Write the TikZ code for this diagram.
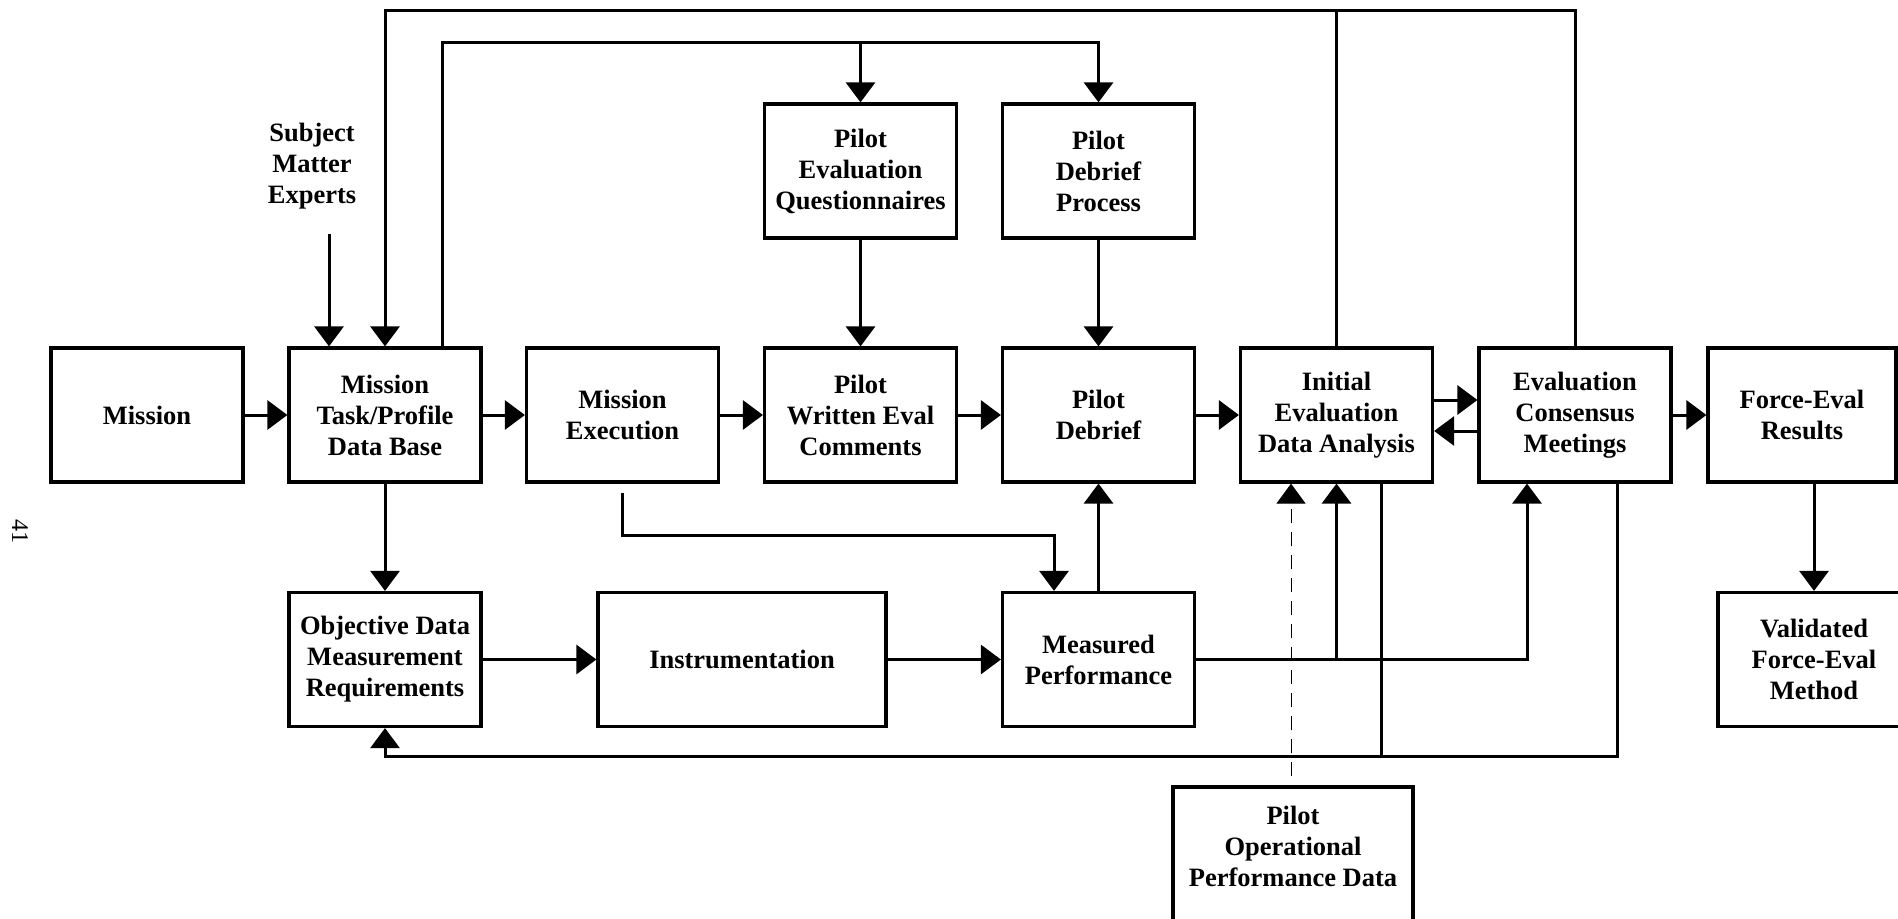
\documentclass[tikz,border=0pt]{standalone}
\usepackage{fontspec}
\setmainfont{Liberation Serif}
\usetikzlibrary{arrows.meta,calc}
\tikzset{
  box/.style={draw, line width=1.6pt, minimum width=96pt, minimum height=67pt, inner sep=0pt, align=center,
    font=\fontsize{13.25}{15.5}\selectfont\bfseries},
  txt/.style={inner sep=0pt, align=center, font=\fontsize{13.25}{15.5}\selectfont\bfseries},
  con/.style={line width=1.5pt},
  arr/.style={line width=1.5pt, -{Triangle[width=14.5pt,length=10pt]}},
  dasharr/.style={line width=0.5pt, dash pattern=on 7pt off 4.5pt, -{Triangle[width=14.5pt,length=10pt]}}
}
\begin{document}
\begin{tikzpicture}[x=0.5pt,y=-0.5pt]
\useasboundingbox (0,0) rectangle (1898,919);
\clip (0,0) rectangle (1898,919);
% main row
\node[box] (mission) at (147,415) {Mission};
\node[box] (task) at (385,415) {Mission\\Task/Profile\\Data Base};
\node[box] (exec) at (622.5,415) {Mission\\Execution};
\node[box] (pwec) at (860.5,415) {Pilot\\Written Eval\\Comments};
\node[box] (pd) at (1098.5,415) {Pilot\\Debrief};
\node[box] (ieda) at (1336.5,415) {Initial\\Evaluation\\Data Analysis};
\node[box] (ecm) at (1575,415) {Evaluation\\Consensus\\Meetings};
\node[box, minimum width=94pt] (fer) at (1802,415) {Force-Eval\\Results};
% top row
\node[box] (peq) at (860.5,171) {Pilot\\Evaluation\\Questionnaires};
\node[box] (pdp) at (1098.5,171) {Pilot\\Debrief\\Process};
% bottom row
\node[box] (odmr) at (385,659.5) {Objective Data\\Measurement\\Requirements};
\node[box, minimum width=144pt] (instr) at (742,659.5) {Instrumentation};
\node[box] (mp) at (1098.5,659.5) {Measured\\Performance};
\node[box] (vfem) at (1814,659.5) {Validated\\Force-Eval\\Method};
\node[box, minimum width=120pt, minimum height=74pt] (popd) at (1293,861) {};
\node[txt] (popdtext) at (1293,846) {Pilot\\Operational\\Performance Data};
% free text
\node[txt] (sme) at (312,166) {Subject\\Matter\\Experts};
\node[inner sep=0pt, rotate=-90, font=\fontsize{12}{14}\selectfont] (pagenum) at (20,531) {41};
% helper coordinates
\coordinate (ytop) at (0,11);
\coordinate (ysec) at (0,43);
\coordinate (ybus) at (0,535);
\coordinate (ybot) at (0,756);
\coordinate (smeS) at (329,234);
\coordinate (taskup) at ([xshift=28.5pt]task.north);
\coordinate (mpin) at ([xshift=-22.25pt]mp.north);
\coordinate (ecmin) at ([xshift=-24pt]ecm.south);
\coordinate (iedain) at ([xshift=-22.75pt]ieda.south);
\coordinate (iedaout) at ([xshift=22.25pt]ieda.south);
\coordinate (ecmout) at ([xshift=21pt]ecm.south);
\coordinate (iedaA) at ([yshift=7.5pt]ieda.east);
\coordinate (iedaB) at ([yshift=-8pt]ieda.east);
% horizontal flow
\draw[arr] (mission.east) -- (task.west);
\draw[arr] (task.east) -- (exec.west);
\draw[arr] (exec.east) -- (pwec.west);
\draw[arr] (pwec.east) -- (pd.west);
\draw[arr] (pd.east) -- (ieda.west);
\draw[arr] (iedaA) -- (iedaA -| ecm.west);
\draw[arr] (iedaB -| ecm.west) -- (iedaB);
\draw[arr] (ecm.east) -- (fer.west);
\draw[arr] (vfem.north |- fer.south) -- (vfem.north);
% SME
\draw[arr] (smeS) -- (smeS |- task.north);
% top feedback
\draw[arr] (ecm.north) -- (ecm.north |- ytop) -- (task.north |- ytop) -- (task.north);
\draw[con] (ieda.north) -- (ieda.north |- ytop);
% second loop
\draw[arr] (taskup) |- (pdp.north |- ysec) -- (pdp.north);
\draw[arr] (peq.north |- ysec) -- (peq.north);
\draw[arr] (peq.south) -- (pwec.north);
\draw[arr] (pdp.south) -- (pd.north);
% lower flow
\draw[arr] (task.south) -- (odmr.north);
\draw[arr] (odmr.east) -- (instr.west);
\draw[arr] (instr.east) -- (mp.west);
\draw[arr] ([yshift=-4.5pt]exec.south) |- (mpin |- ybus) -- (mpin);
\draw[arr] (mp.north) -- (pd.south);
\draw[arr] (mp.east) -| (ecmin);
\draw[arr] (ieda.south |- mp.east) -- (ieda.south);
\draw[dasharr] ([yshift=4.5pt]popd.north -| iedain) -- (iedain);
% bottom feedback
\draw[arr] (ecmout) |- (odmr.south |- ybot) -- (odmr.south);
\draw[con] (iedaout) -- (iedaout |- ybot);
\end{tikzpicture}
\end{document}
